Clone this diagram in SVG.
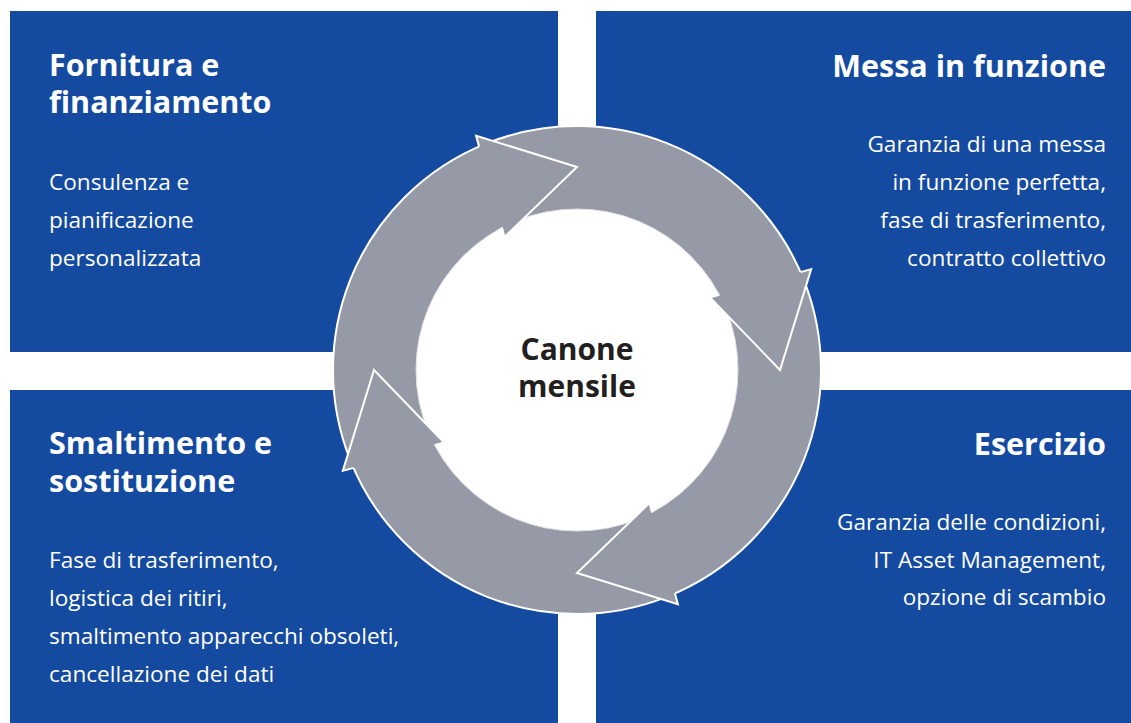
<svg xmlns="http://www.w3.org/2000/svg" width="1131" height="723" viewBox="0 0 1131 723">
<style>
.box{fill:#144a9f}
.t{font-family:"Open Sans","Noto Sans",sans-serif;font-weight:700;font-size:30.5px;fill:#ffffff}
.b{font-family:"Open Sans","Noto Sans",sans-serif;font-size:22.6px;fill:#ffffff}
.r{text-anchor:end}
.c{font-family:"Open Sans","Noto Sans",sans-serif;font-weight:700;font-size:30px;fill:#231f20;text-anchor:middle}
.ring{fill:#9699a6;stroke:#ffffff;stroke-width:2}
.head{fill:#9699a6;stroke:#ffffff;stroke-width:2;stroke-linejoin:miter}
</style>
<defs>
<path id="head" d="M800.5,272.1 L811.2,269.1 L780,370 L710,297.5 L719.4,294.9"/>
</defs>
<rect width="1131" height="723" fill="#ffffff"/>
<g id="node-fornitura">
<rect class="box" x="10" y="11" width="548" height="341"/>
<text class="t" x="49" y="76">Fornitura e</text>
<text class="t" x="49" y="113">finanziamento</text>
<text class="b" x="49" y="190">Consulenza e</text>
<text class="b" x="49" y="228">pianificazione</text>
<text class="b" x="49" y="266">personalizzata</text>
</g>
<g id="node-messa">
<rect class="box" x="596" y="11" width="535" height="341"/>
<text class="t r" x="1106" y="77">Messa in funzione</text>
<text class="b r" x="1106" y="152">Garanzia di una messa</text>
<text class="b r" x="1106" y="190">in funzione perfetta,</text>
<text class="b r" x="1106" y="228">fase di trasferimento,</text>
<text class="b r" x="1106" y="266">contratto collettivo</text>
</g>
<g id="node-smaltimento">
<rect class="box" x="10" y="390" width="548" height="333"/>
<text class="t" x="49" y="454">Smaltimento e</text>
<text class="t" x="49" y="492">sostituzione</text>
<text class="b" x="49" y="568">Fase di trasferimento,</text>
<text class="b" x="49" y="606">logistica dei ritiri,</text>
<text class="b" x="49" y="644">smaltimento apparecchi obsoleti,</text>
<text class="b" x="49" y="682">cancellazione dei dati</text>
</g>
<g id="node-esercizio">
<rect class="box" x="596" y="390" width="535" height="333"/>
<text class="t r" x="1106" y="455">Esercizio</text>
<text class="b r" x="1106" y="530">Garanzia delle condizioni,</text>
<text class="b r" x="1106" y="568">IT Asset Management,</text>
<text class="b r" x="1106" y="605">opzione di scambio</text>
</g>
<g id="connectors">
<circle class="ring" cx="577" cy="370" r="244"/>
<circle cx="577" cy="370" r="161" fill="#ffffff" stroke="#e2e2e6" stroke-width="1"/>
<use href="#head" class="head"/>
<use href="#head" class="head" transform="rotate(90 577 370)"/>
<use href="#head" class="head" transform="rotate(180 577 370)"/>
<use href="#head" class="head" transform="rotate(270 577 370)"/>
</g>
<g id="node-canone">
<text class="c" x="577" y="360">Canone</text>
<text class="c" x="577" y="397">mensile</text>
</g>
</svg>
